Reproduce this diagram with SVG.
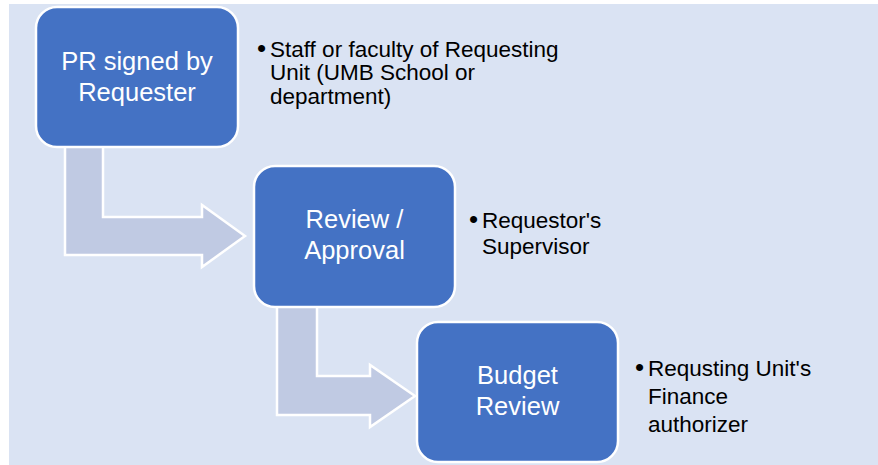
<svg xmlns="http://www.w3.org/2000/svg" width="878" height="465" viewBox="0 0 878 465">
<style>
.bg{fill:#dae3f3}
.box{fill:#4472c4;stroke:#ffffff;stroke-width:2.5}
.arrow{fill:#c0cae3;stroke:#ffffff;stroke-width:2.5;stroke-linejoin:miter}
.bt{font-family:"Liberation Sans",Arial,sans-serif;font-size:25.5px;fill:#ffffff;text-anchor:middle}
.nt{font-family:"Liberation Sans",Arial,sans-serif;font-size:22.5px;fill:#000000}
.bu{font-family:"Liberation Sans",Arial,sans-serif;font-size:26px;fill:#000000}
</style>
<rect x="0" y="0" width="878" height="465" fill="#ffffff"/>
<rect class="bg" x="9" y="4" width="869" height="461"/>
<g id="connectors">
<polygon class="arrow" points="65,140 103,140 103,217 202,217 202,205 245,236 202,267 202,255 65,255"/>
<polygon class="arrow" points="277,300 317,300 317,376 370,376 370,365 415,396 370,427 370,415 277,415"/>
</g>
<g id="node1">
<rect class="box" x="36" y="7" width="202" height="140" rx="21"/>
<text class="bt" x="137" y="70">PR signed by</text>
<text class="bt" x="137" y="101">Requester</text>
</g>
<g id="note1">
<text class="bu" x="257" y="57">•</text>
<text class="nt" x="270" y="57">Staff or faculty of Requesting</text>
<text class="nt" x="270" y="80">Unit (UMB School or</text>
<text class="nt" x="270" y="104">department)</text>
</g>
<g id="node2">
<rect class="box" x="254" y="166" width="201" height="141" rx="21"/>
<text class="bt" x="354.5" y="228">Review /</text>
<text class="bt" x="354.5" y="259">Approval</text>
</g>
<g id="note2">
<text class="bu" x="469" y="228">•</text>
<text class="nt" x="482" y="228">Requestor's</text>
<text class="nt" x="482" y="254">Supervisor</text>
</g>
<g id="node3">
<rect class="box" x="417" y="322" width="201" height="140" rx="21"/>
<text class="bt" x="517.5" y="384">Budget</text>
<text class="bt" x="517.5" y="415">Review</text>
</g>
<g id="note3">
<text class="bu" x="635" y="376">•</text>
<text class="nt" x="648" y="376">Requsting Unit's</text>
<text class="nt" x="648" y="404">Finance</text>
<text class="nt" x="648" y="432">authorizer</text>
</g>
</svg>
